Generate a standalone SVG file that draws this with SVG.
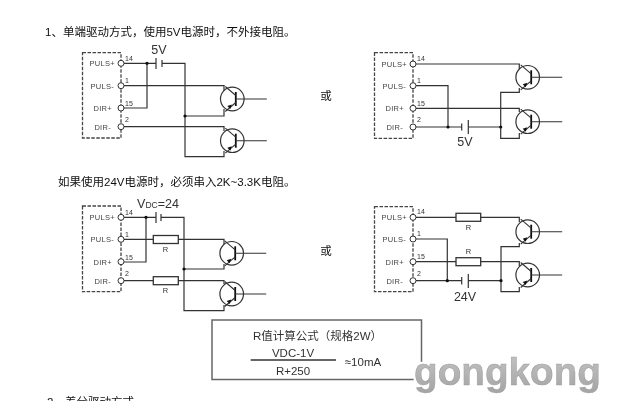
<svg xmlns="http://www.w3.org/2000/svg" width="620" height="401" viewBox="0 0 620 401">
<style>
.w{fill:none;stroke:#333;stroke-width:1.2}
.box{fill:none;stroke:#444;stroke-width:1.3;stroke-dasharray:3.5 1.5}
.t{fill:#fff;stroke:#333;stroke-width:1}
.j{fill:#111}
.r{fill:#fff;stroke:#333;stroke-width:1.3}
.p{font:7.5px "Liberation Sans",sans-serif;fill:#444;text-anchor:end;letter-spacing:.3px}
.n{font:7px "Liberation Sans",sans-serif;fill:#333}
.v{font:12.500px "Liberation Sans",sans-serif;fill:#333;text-anchor:middle}
.rl{font:7.5px "Liberation Sans",sans-serif;fill:#333;text-anchor:middle}
.c{font:11.5px "Liberation Sans","Noto Sans CJK SC",sans-serif;fill:#111}
.f{font:11.500px "Liberation Sans","Noto Sans CJK SC",sans-serif;fill:#333;text-anchor:middle}
.wm{font:bold 38.700px "Liberation Sans",sans-serif;fill:url(#wg);stroke:#999;stroke-width:.5}
</style>
<defs>
<linearGradient id="wg" x1="0" y1="0" x2="0" y2="1"><stop offset="0" stop-color="#c6c6c6"/><stop offset="1" stop-color="#a4a4a4"/></linearGradient>
<filter id="soft" x="0" y="0" width="1" height="1"><feGaussianBlur stdDeviation="0.3"/></filter>
<filter id="halo" x="-5%" y="-15%" width="110%" height="130%"><feMorphology in="SourceAlpha" operator="dilate" radius="2.200" result="d"/><feFlood flood-color="#fff"/><feComposite in2="d" operator="in" result="h"/><feMerge><feMergeNode in="h"/><feMergeNode in="SourceGraphic"/></feMerge></filter>
<g id="q">
<circle r="11.800" fill="#fff" stroke="#333" stroke-width="1.200"/>
<path d="M3.500-7V7" stroke="#111" stroke-width="1.800" fill="none"/>
<path d="M3.500-3.500L-7-12.500M3.500 3.500L-7 12.500M3.500 0H34.500" stroke="#333" stroke-width="1.100" fill="none"/>
<path d="M-5 7L-.5 5.500L-2 10Z" fill="#111"/>
</g>
</defs>
<rect width="620" height="401" fill="#fff"/>
<g filter="url(#soft)">
<text class="c" x="45" y="36">1、单端驱动方式，使用5V电源时，不外接电阻。</text>
<text class="c" x="58" y="186">如果使用24V电源时，必须串入2K~3.3K电阻。</text>
<text class="c" x="47" y="406">2、差分驱动方式</text>
<text class="c" x="326" y="100" text-anchor="middle">或</text>
<text class="c" x="326" y="255" text-anchor="middle">或</text>
<g id="connectors">
<path class="w" d="M121 63.300H156M162 63.300H185V156.700H224V151M147 63.300V108H121M121 85.700H224V91M185 116H224V109M121 126.700H224V131"/>
<path class="w" d="M156 58V69M162 60V67"/>
<path class="w" d="M413 64H519.300V69M413 85.700H448V127M413 108.300H519.300V112M413 127H461.700M468.300 127H500.700V92.300H519.300V88M500.700 127V138.300H519.300V133"/>
<path class="w" d="M461.700 123.500V130.500M468.300 120V134"/>
<path class="w" d="M121 217.300H156M161 217.300H184V310.700H224V305M146 217.300V262H121M121 239.300H224V244M184 269H224V264M121 280.700H224V284"/>
<path class="w" d="M156 212V223M161 214V221"/>
<path class="w" d="M413 217.300H519.300V222M413 239H447.300V280.700M413 261.700H519.300V266M413 280.700H461.700M468.300 280.700H501V246.700H519.300V243M501 280.700V291.700H519.300V287"/>
<path class="w" d="M461.700 277V284.500M468.300 274V288"/>
<circle class="j" cx="147" cy="63.300" r="1.600"/><circle class="j" cx="185" cy="116" r="1.600"/>
<circle class="j" cx="448" cy="127" r="1.600"/><circle class="j" cx="500.700" cy="127" r="1.600"/>
<circle class="j" cx="146" cy="217.300" r="1.600"/><circle class="j" cx="184" cy="269" r="1.600"/>
<circle class="j" cx="447.300" cy="280.700" r="1.600"/><circle class="j" cx="501" cy="280.700" r="1.600"/>
</g>
<g id="driver1">
<rect class="box" x="82.500" y="52.700" width="38.500" height="85.300"/>
<circle class="t" cx="121" cy="63.300" r="3"/><circle class="t" cx="121" cy="85.700" r="3"/><circle class="t" cx="121" cy="108" r="3"/><circle class="t" cx="121" cy="126.700" r="3"/>
<text class="p" x="115" y="66">PULS+</text><text class="p" x="114" y="88.500">PULS-</text><text class="p" x="112" y="111">DIR+</text><text class="p" x="111" y="129.500">DIR-</text>
<text class="n" x="125" y="61">14</text><text class="n" x="125" y="83">1</text><text class="n" x="125" y="106">15</text><text class="n" x="125" y="122">2</text>
</g>
<g id="driver2">
<rect class="box" x="374.500" y="52.700" width="38.500" height="85.600"/>
<circle class="t" cx="413" cy="64" r="3"/><circle class="t" cx="413" cy="85.700" r="3"/><circle class="t" cx="413" cy="108.300" r="3"/><circle class="t" cx="413" cy="127" r="3"/>
<text class="p" x="407" y="66.500">PULS+</text><text class="p" x="406" y="88.500">PULS-</text><text class="p" x="404" y="111">DIR+</text><text class="p" x="403" y="129.500">DIR-</text>
<text class="n" x="417" y="61">14</text><text class="n" x="417" y="83">1</text><text class="n" x="417" y="106">15</text><text class="n" x="417" y="122">2</text>
</g>
<g id="driver3">
<rect class="box" x="82.500" y="206" width="38.500" height="85.700"/>
<circle class="t" cx="121" cy="217.300" r="3"/><circle class="t" cx="121" cy="239.300" r="3"/><circle class="t" cx="121" cy="261.700" r="3"/><circle class="t" cx="121" cy="280.700" r="3"/>
<text class="p" x="115" y="220">PULS+</text><text class="p" x="114" y="242">PULS-</text><text class="p" x="112" y="264.500">DIR+</text><text class="p" x="111" y="283.500">DIR-</text>
<text class="n" x="125" y="215">14</text><text class="n" x="125" y="237">1</text><text class="n" x="125" y="260">15</text><text class="n" x="125" y="276">2</text>
</g>
<g id="driver4">
<rect class="box" x="374.500" y="206.700" width="38.500" height="85"/>
<circle class="t" cx="413" cy="217.300" r="3"/><circle class="t" cx="413" cy="239" r="3"/><circle class="t" cx="413" cy="261.700" r="3"/><circle class="t" cx="413" cy="280.700" r="3"/>
<text class="p" x="407" y="220">PULS+</text><text class="p" x="406" y="242">PULS-</text><text class="p" x="404" y="264.500">DIR+</text><text class="p" x="403" y="283.500">DIR-</text>
<text class="n" x="417" y="214">14</text><text class="n" x="417" y="236">1</text><text class="n" x="417" y="259">15</text><text class="n" x="417" y="276">2</text>
</g>
<g id="q1"><use href="#q" x="232.300" y="99"/></g>
<g id="q2"><use href="#q" x="232.300" y="140.700"/></g>
<g id="q3"><use href="#q" x="527.700" y="77.300"/></g>
<g id="q4"><use href="#q" x="527.700" y="121.700"/></g>
<g id="q5"><use href="#q" x="231.700" y="253.300"/></g>
<g id="q6"><use href="#q" x="231.700" y="294"/></g>
<g id="q7"><use href="#q" x="527.700" y="231.700"/></g>
<g id="q8"><use href="#q" x="527.700" y="275"/></g>
<g id="r1"><rect class="r" x="153.300" y="235.500" width="25" height="8"/><text class="rl" x="165.500" y="252">R</text></g>
<g id="r2"><rect class="r" x="153.300" y="276.700" width="25" height="8"/><text class="rl" x="165.500" y="293">R</text></g>
<g id="r3"><rect class="r" x="456" y="213.300" width="24.700" height="8"/><text class="rl" x="468.500" y="230">R</text></g>
<g id="r4"><rect class="r" x="456" y="257.700" width="24.700" height="8"/><text class="rl" x="468.500" y="254">R</text></g>
<text class="v" x="159" y="54">5V</text>
<text class="v" x="465" y="146">5V</text>
<text class="v" x="465" y="300.500">24V</text>
<text class="v" x="158" y="207.500">V<tspan font-size="8.500">DC</tspan>=24</text>
<g id="formula">
<rect x="212" y="320" width="209.500" height="59.500" fill="#fff" stroke="#666" stroke-width="1.500"/>
<text class="f" x="317.500" y="340">R值计算公式（规格2W）</text>
<text class="f" x="293" y="356.500">VDC-1V</text>
<path d="M250.700 360H336" stroke="#333" stroke-width="1.300" fill="none"/>
<text class="f" x="293" y="374.500">R+250</text>
<text class="f" x="363" y="365.500">≈10mA</text>
</g>
</g>
<g id="watermark" filter="url(#halo)">
<text class="wm" x="414" y="385">gongkong</text>
</g>
</svg>
